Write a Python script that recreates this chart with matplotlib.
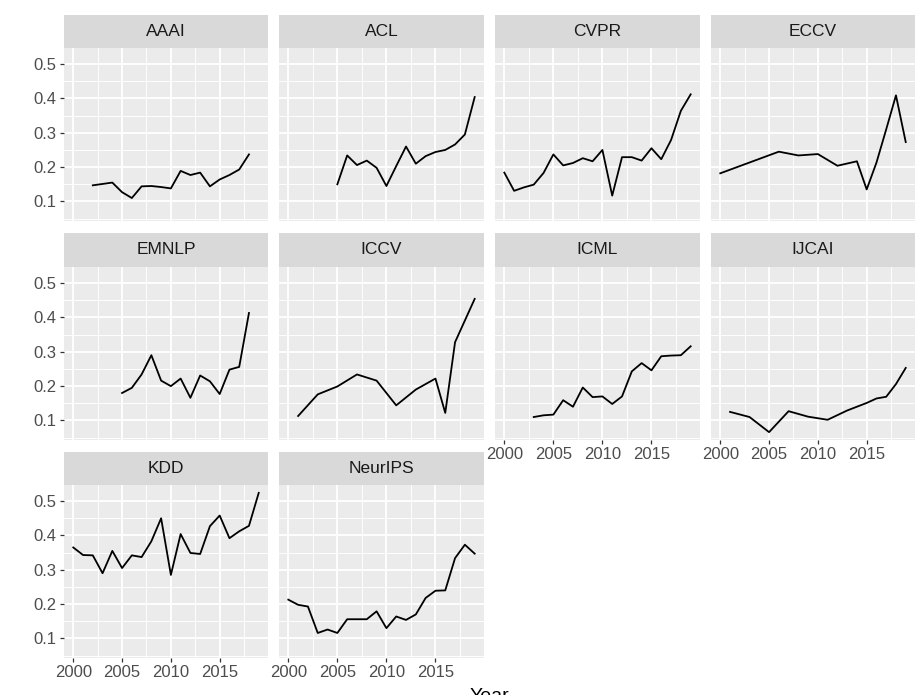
import matplotlib
matplotlib.use("Agg")
import matplotlib.pyplot as plt
import numpy as np

plt.rcParams['font.family'] = ['Liberation Sans', 'DejaVu Sans']

# values, one pair of lists per venue
aaai_years = [2002, 2003, 2004, 2005, 2006, 2007, 2008, 2009, 2010, 2011, 2012, 2013, 2014, 2015, 2016, 2017, 2018]
aaai_vals = [0.147, 0.151, 0.155, 0.127, 0.110, 0.144, 0.145, 0.142, 0.138, 0.189, 0.177, 0.184, 0.144, 0.164, 0.177, 0.193, 0.237]

acl_years = [2005, 2006, 2007, 2008, 2009, 2010, 2011, 2012, 2013, 2014, 2015, 2016, 2017, 2018, 2019]
acl_vals = [0.150, 0.234, 0.206, 0.219, 0.198, 0.145, 0.203, 0.260, 0.210, 0.232, 0.244, 0.250, 0.266, 0.295, 0.404]

cvpr_years = list(range(2000, 2020))
cvpr_vals = [0.184, 0.131, 0.141, 0.149, 0.183, 0.237, 0.205, 0.212, 0.226, 0.217,
             0.250, 0.117, 0.229, 0.229, 0.219, 0.255, 0.223, 0.279, 0.364, 0.412]

eccv_years = [2000, 2002, 2004, 2006, 2008, 2010, 2012, 2014, 2015, 2016, 2017, 2018, 2019]
eccv_vals = [0.182, 0.203, 0.224, 0.245, 0.234, 0.238, 0.204, 0.217, 0.135, 0.213, 0.310, 0.409, 0.273]

emnlp_years = [2005, 2006, 2007, 2008, 2009, 2010, 2011, 2012, 2013, 2014, 2015, 2016, 2017, 2018]
emnlp_vals = [0.180, 0.195, 0.234, 0.290, 0.216, 0.200, 0.222, 0.166, 0.231, 0.214, 0.177, 0.248, 0.256, 0.413]

iccv_years = [2001, 2003, 2005, 2007, 2009, 2011, 2013, 2015, 2016, 2017, 2019]
iccv_vals = [0.113, 0.176, 0.199, 0.234, 0.216, 0.144, 0.190, 0.222, 0.122, 0.328, 0.454]

icml_years = list(range(2003, 2020))
icml_vals = [0.110, 0.115, 0.117, 0.159, 0.140, 0.196, 0.168, 0.170, 0.148, 0.170,
             0.243, 0.267, 0.246, 0.287, 0.289, 0.290, 0.316]

ijcai_years = [2001, 2003, 2005, 2007, 2009, 2011, 2013, 2015, 2016, 2017, 2018, 2019]
ijcai_vals = [0.125, 0.110, 0.066, 0.127, 0.111, 0.102, 0.129, 0.151, 0.164, 0.169, 0.206, 0.253]

kdd_years = list(range(2000, 2020))
kdd_vals = [0.365, 0.343, 0.342, 0.290, 0.355, 0.305, 0.342, 0.337, 0.383, 0.450,
            0.285, 0.404, 0.349, 0.346, 0.427, 0.458, 0.392, 0.412, 0.428, 0.524]

neurips_years = list(range(2000, 2020))
neurips_vals = [0.213, 0.198, 0.193, 0.116, 0.126, 0.116, 0.156, 0.156, 0.156, 0.179,
                0.130, 0.164, 0.154, 0.170, 0.218, 0.239, 0.240, 0.334, 0.373, 0.347]

venues = ['AAAI', 'ACL', 'CVPR', 'ECCV', 'EMNLP', 'ICCV', 'ICML', 'IJCAI', 'KDD', 'NeurIPS']
series = [(aaai_years, aaai_vals), (acl_years, acl_vals), (cvpr_years, cvpr_vals),
          (eccv_years, eccv_vals), (emnlp_years, emnlp_vals), (iccv_years, iccv_vals),
          (icml_years, icml_vals), (ijcai_years, ijcai_vals), (kdd_years, kdd_vals),
          (neurips_years, neurips_vals)]

W, H = 924, 695
fig = plt.figure(figsize=(W / 100, H / 100), dpi=100)

# panel boxes in pixels
col_x = [(64, 268), (279, 484), (495, 700), (711, 915)]
row_y = [(15, 48, 221), (233, 267, 440), (452, 485, 658)]

all_years = [y for ys, _ in series for y in ys]
all_vals = [v for _, vs in series for v in vs]
x0, x1 = min(all_years), max(all_years)
y0, y1 = min(all_vals), max(all_vals)
xpad = 0.05 * (x1 - x0)
ypad = 0.05 * (y1 - y0)

def box(l, r, t, b):
    return [l / W, 1 - b / H, (r - l) / W, (b - t) / H]

for i, name in enumerate(venues):
    r, c = divmod(i, 4)
    l, rr = col_x[c]
    st, pt, pb = row_y[r]

    # strip on top of each panel
    sax = fig.add_axes(box(l, rr, st, pt))
    sax.set_facecolor('#D9D9D9')
    sax.set_xticks([])
    sax.set_yticks([])
    for s in sax.spines.values():
        s.set_visible(False)
    sax.text(0.5, 0.5, name, ha='center', va='center', fontsize=12.5,
             color='#1A1A1A', transform=sax.transAxes)

    ax = fig.add_axes(box(l, rr, pt, pb))
    ax.set_facecolor('#EBEBEB')
    for s in ax.spines.values():
        s.set_visible(False)
    ax.set_xlim(x0 - xpad, x1 + xpad)
    ax.set_ylim(y0 - ypad, y1 + ypad)
    ax.set_xticks([2000, 2005, 2010, 2015])
    ax.set_xticks([2002.5, 2007.5, 2012.5, 2017.5], minor=True)
    ax.set_yticks([0.1, 0.2, 0.3, 0.4, 0.5])
    ax.set_yticks([0.05, 0.15, 0.25, 0.35, 0.45], minor=True)
    ax.grid(True, which='major', color='white', linewidth=1.3)
    ax.grid(True, which='minor', color='white', linewidth=0.65)
    ax.set_axisbelow(True)
    ax.tick_params(which='minor', length=0)
    ax.tick_params(which='major', length=3.2, width=0.9, color='#333333',
                   labelsize=12, labelcolor='#4D4D4D', pad=2)

    show_x = (r == 2) or (r == 1 and c >= 2)
    if not show_x:
        ax.tick_params(axis='x', length=0, labelbottom=False)
    if c != 0:
        ax.tick_params(axis='y', length=0, labelleft=False)
    else:
        ax.set_yticklabels(['0.1', '0.2', '0.3', '0.4', '0.5'])

    ys, vs = series[i]
    ax.plot(ys, vs, color='black', linewidth=1.3)

# axis title sits at the bottom edge, as in the reference where it is clipped
fig.text(489.5 / W, 1 - 688 / H, 'Year', ha='center', va='top', fontsize=14, color='black')

fig.savefig('out.png', dpi=100, facecolor='white')
